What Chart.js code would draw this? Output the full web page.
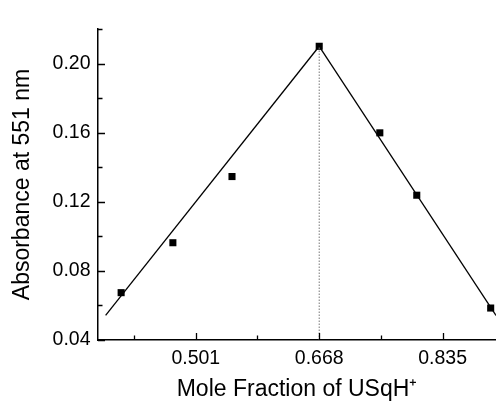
<!DOCTYPE html>
<html><head><meta charset="utf-8">
<script src="https://cdn.jsdelivr.net/npm/chart.js@4/dist/chart.umd.min.js"></script>
<style>html,body{margin:0;padding:0;background:#fff;overflow:hidden}canvas{display:block}</style>
</head><body>
<canvas id="c" width="496" height="401"></canvas>
<script>
// ---- data ----
const moleFraction = [0.400, 0.470, 0.550, 0.668, 0.750, 0.800, 0.900];
const absorbance   = [0.0674, 0.0963, 0.1346, 0.2100, 0.1599, 0.1238, 0.0585];
const fitLeftX  = [0.379, 0.668];
const fitLeftY  = [0.0542, 0.2100];
const fitRightX = [0.668, 0.9072];
const fitRightY = [0.2100, 0.0542];
const stoichX = [0.668, 0.668];
const stoichY = [0.04, 0.2100];
const xTicks = [0.501, 0.668, 0.835];
const xMinorTicks = [0.4175, 0.5845, 0.7515];
const yTicks = [0.04, 0.08, 0.12, 0.16, 0.20];
const yMinorTicks = [0.06, 0.10, 0.14, 0.18, 0.22];
const xTitle = 'Mole Fraction of USqH\u207A';
const yTitle = 'Absorbance at 551 nm';

const pts = (xs, ys) => xs.map((x, i) => ({x: x, y: ys[i]}));
const FONT = '"Liberation Sans", Arial, Helvetica, sans-serif';

const innerTicks = {
  id: 'innerTicks',
  afterDraw(chart) {
    const {ctx, chartArea, scales} = chart;
    const xs = scales.x, ys = scales.y;
    ctx.save();
    ctx.strokeStyle = '#000';
    ctx.lineWidth = 1.3;
    ctx.beginPath();
    const doX = (vals, len) => vals.forEach(v => {
      if (v < xs.min || v > xs.max) return;
      const px = Math.round(xs.getPixelForValue(v)) + 0.5;
      ctx.moveTo(px, chartArea.bottom); ctx.lineTo(px, chartArea.bottom - len);
    });
    const doY = (vals, len) => vals.forEach(v => {
      if (v < ys.min || v > ys.max + 1e-9) return;
      const py = Math.round(ys.getPixelForValue(v)) + 0.5;
      ctx.moveTo(chartArea.left, py); ctx.lineTo(chartArea.left + len, py);
    });
    doX(xTicks, 7); doX(xMinorTicks, 4.5);
    doY(yTicks, 7); doY(yMinorTicks, 4.5);
    ctx.stroke();
    ctx.restore();
  }
};

new Chart(document.getElementById('c'), {
  type: 'scatter',
  data: {
    datasets: [
      {
        label: 'stoichiometry',
        data: pts(stoichX, stoichY),
        showLine: true,
        borderColor: '#777',
        borderWidth: 1,
        borderDash: [1.5, 1.5],
        pointRadius: 0
      },
      {
        label: 'fit left',
        data: pts(fitLeftX, fitLeftY),
        showLine: true,
        borderColor: '#000',
        borderWidth: 1.3,
        pointRadius: 0
      },
      {
        label: 'fit right',
        data: pts(fitRightX, fitRightY),
        showLine: true,
        borderColor: '#000',
        borderWidth: 1.3,
        pointRadius: 0
      },
      {
        label: 'Absorbance',
        data: pts(moleFraction, absorbance),
        showLine: false,
        pointStyle: 'rect',
        pointRadius: 5,
        pointBorderWidth: 0,
        backgroundColor: '#000',
        borderColor: '#000'
      }
    ]
  },
  options: {
    responsive: false,
    animation: false,
    devicePixelRatio: 1,
    layout: {autoPadding: false, padding: {top: 29, left: 0, right: 0, bottom: 0}},
    plugins: {legend: {display: false}, tooltip: {enabled: false}},
    scales: {
      x: {
        type: 'linear',
        min: 0.3687,
        max: 0.9072,
        afterBuildTicks: s => { s.ticks = xTicks.map(v => ({value: v})); },
        afterFit: s => { s.height = 61; s.paddingLeft = 0; s.paddingRight = 0; },
        grid: {display: true, drawOnChartArea: false, drawTicks: false},
        border: {display: true, color: '#000', width: 1.5},
        ticks: {
          color: '#000',
          font: {family: FONT, size: 19.5},
          padding: 7,
          maxRotation: 0,
          autoSkip: false,
          callback: v => Number(v).toFixed(3)
        },
        title: {
          display: true,
          text: xTitle,
          color: '#000',
          font: {family: FONT, size: 23, lineHeight: 1},
          padding: {top: 0, bottom: 0}
        }
      },
      y: {
        type: 'linear',
        min: 0.04,
        max: 0.22,
        afterBuildTicks: s => { s.ticks = yTicks.map(v => ({value: v})); },
        afterFit: s => { s.width = 98; s.paddingTop = 0; s.paddingBottom = 0; },
        grid: {display: true, drawOnChartArea: false, drawTicks: false},
        border: {display: true, color: '#000', width: 1.5},
        ticks: {
          color: '#000',
          font: {family: FONT, size: 19.5},
          padding: 7.5,
          autoSkip: false,
          callback: v => Number(v).toFixed(2)
        },
        title: {
          display: true,
          text: yTitle,
          color: '#000',
          font: {family: FONT, size: 23, lineHeight: 1},
          padding: {top: 11, bottom: 0}
        }
      }
    }
  },
  plugins: [innerTicks]
});
</script>
</body></html>
